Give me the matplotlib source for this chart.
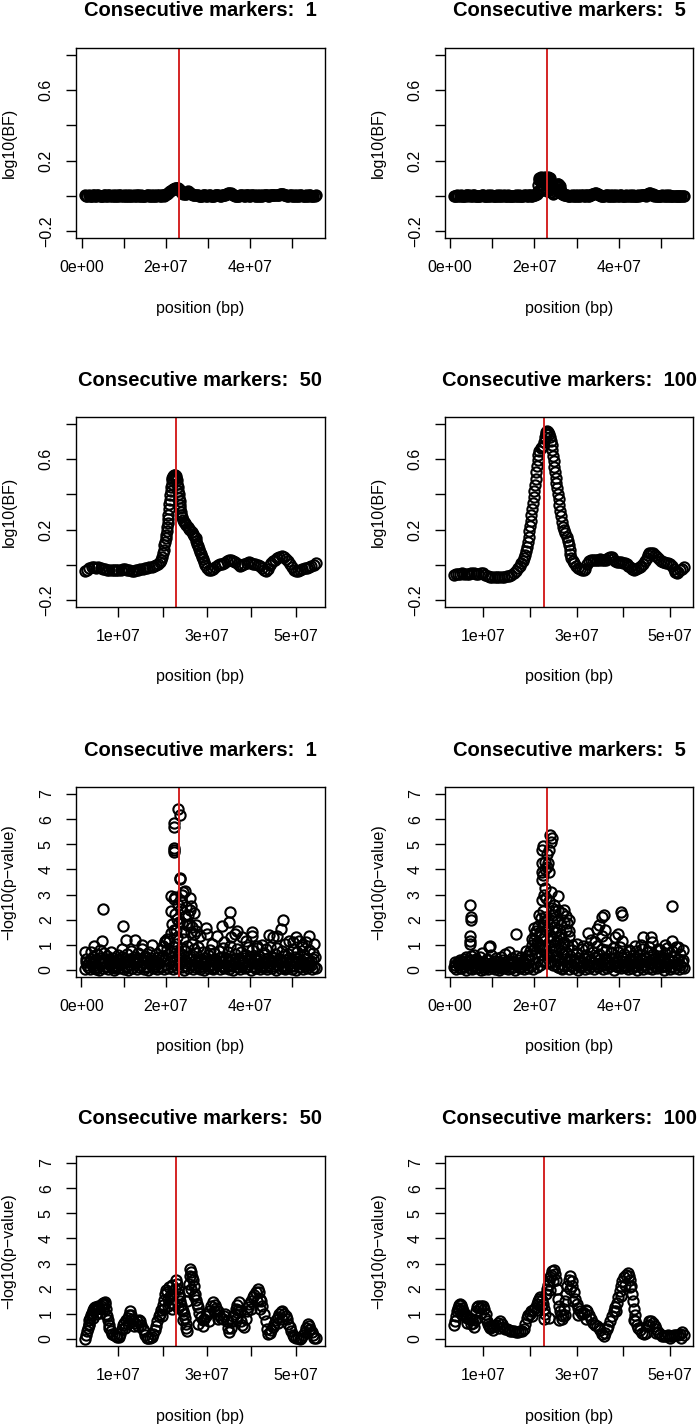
import matplotlib.pyplot as plt

plt.rcParams['font.family'] = ['Liberation Sans', 'DejaVu Sans']

# positions are in Mb
causal_mb = 23.1

bf1_x = [0.8, 1.3, 1.9, 2.4, 2.9, 3.4, 3.9, 4.5, 5.0, 5.5,
         6.0, 6.5, 7.1, 7.6, 8.1, 8.6, 9.1, 9.7, 10.2, 10.7,
         11.2, 11.7, 12.3, 12.8, 13.3, 13.8, 14.3, 14.9, 15.4, 15.9,
         16.4, 16.9, 17.5, 18.0, 18.5, 19.0, 19.5, 20.1, 20.6, 21.1,
         21.6, 22.1, 22.7, 23.2, 23.7, 24.2, 24.7, 25.3, 25.8, 26.3,
         26.8, 27.3, 27.9, 28.4, 28.9, 29.4, 29.9, 30.5, 31.0, 31.5,
         32.0, 32.5, 33.1, 33.6, 34.1, 34.6, 35.1, 35.7, 36.2, 36.7,
         37.2, 37.7, 38.3, 38.8, 39.3, 39.8, 40.3, 40.9, 41.4, 41.9,
         42.4, 42.9, 43.5, 44.0, 44.5, 45.0, 45.5, 46.1, 46.6, 47.1,
         47.6, 48.1, 48.7, 49.2, 49.7, 50.2, 50.7, 51.3, 51.8, 52.3,
         52.8, 53.3, 53.9, 54.4, 54.9, 55.4, 55.7,
         1.05, 1.6, 2.15, 2.65, 3.15, 3.65, 4.2, 4.75, 5.25, 5.75,
         6.25, 6.8, 7.35, 7.85, 8.35, 8.85, 9.4, 9.95, 10.45, 10.95,
         11.45, 12.0, 12.55, 13.05, 13.55, 14.05, 14.6, 15.15, 15.65, 16.15,
         16.65, 17.2, 17.75, 18.25, 18.75, 19.25, 19.8, 20.35, 20.85, 21.35,
         21.85, 22.4, 22.95, 23.45, 23.95, 24.45, 25.0, 25.55, 26.05, 26.55,
         27.05, 27.6, 28.15, 28.65, 29.15, 29.65, 30.2, 30.75, 31.25, 31.75,
         32.25, 32.8, 33.35, 33.85, 34.35, 34.85, 35.4, 35.95, 36.45, 36.95,
         37.45, 38.0, 38.55, 39.05, 39.55, 40.05, 40.6, 41.15, 41.65, 42.15,
         42.65, 43.2, 43.75, 44.25, 44.75, 45.25, 45.8, 46.35, 46.85, 47.35,
         47.85, 48.4, 48.95, 49.45, 49.95, 50.45, 51.0, 51.55, 52.05, 52.55,
         53.05, 53.6, 54.15, 54.65, 55.15]
bf1_y = [0.002, -0.003, 0.001, -0.002, 0.003, -0.001, 0.002, -0.003, 0.001, 0.004,
         -0.002, 0.006, 0.001, -0.003, 0.002, -0.001, 0.003, -0.002, 0.001, 0.002,
         -0.003, 0.001, 0.002, -0.002, 0.003, -0.001, 0.001, -0.003, 0.002, 0.000,
         0.003, -0.002, 0.001, 0.002, -0.001, 0.004, 0.001, 0.008, 0.018, 0.030,
         0.038, 0.044, 0.046, 0.040, 0.022, 0.010, 0.012, 0.026, 0.018, 0.008,
         0.004, 0.006, 0.001, -0.002, 0.003, 0.002, -0.001, 0.003, 0.001, -0.002,
         0.002, 0.004, 0.001, 0.003, 0.006, 0.012, 0.016, 0.008, 0.003, 0.001,
         -0.002, 0.002, 0.004, 0.001, 0.003, -0.001, 0.002, 0.005, 0.001, -0.002,
         0.003, 0.001, 0.004, 0.002, -0.001, 0.003, 0.006, 0.004, 0.002, 0.009,
         0.012, 0.005, 0.002, -0.001, 0.003, 0.001, -0.002, 0.002, 0.001, 0.003,
         -0.001, 0.002, 0.000, 0.003, -0.002, 0.001, 0.002,
         -0.001, 0.003, -0.002, 0.002, 0.000, 0.003, -0.002, 0.001, 0.003, -0.001,
         0.002, -0.002, 0.004, 0.000, -0.003, 0.002, 0.000, 0.003, -0.002, 0.001,
         0.002, -0.001, 0.000, 0.003, -0.002, 0.002, 0.001, -0.001, 0.003, -0.002,
         0.001, 0.003, -0.001, 0.002, 0.000, 0.002, 0.004, 0.012, 0.024, 0.034,
         0.041, 0.046, 0.044, 0.032, 0.015, 0.010, 0.018, 0.024, 0.012, 0.006,
         0.002, 0.004, -0.001, 0.001, 0.003, -0.002, 0.002, 0.000, -0.001, 0.002,
         0.003, 0.000, 0.002, 0.004, 0.009, 0.015, 0.013, 0.005, 0.001, -0.001,
         0.001, 0.003, -0.001, 0.002, 0.004, 0.000, 0.003, -0.002, 0.002, 0.001,
         -0.002, 0.002, 0.003, 0.000, 0.002, 0.005, 0.003, 0.004, 0.007, 0.011,
         0.010, 0.003, 0.000, 0.002, -0.002, 0.002, 0.000, -0.001, 0.003, 0.000,
         0.001, -0.001, 0.002, 0.000, 0.001]

bf5_x = [1.0, 1.5, 2.0, 2.6, 3.1, 3.6, 4.1, 4.6, 5.2, 5.7,
         6.2, 6.7, 7.2, 7.8, 8.3, 8.8, 9.3, 9.8, 10.4, 10.9,
         11.4, 11.9, 12.4, 13.0, 13.5, 14.0, 14.5, 15.0, 15.6, 16.1,
         16.6, 17.1, 17.6, 18.2, 18.7, 19.2, 19.7, 20.2, 20.6, 20.8,
         20.9, 21.0, 21.2, 21.6, 22.0, 22.4, 22.8, 23.2, 23.6, 23.9,
         23.9, 24.0, 24.3, 24.8, 25.2, 25.5, 25.8, 26.1, 26.4, 26.8,
         27.3, 27.8, 28.3, 28.8, 29.3, 29.9, 30.4, 30.9, 31.4, 31.9,
         32.5, 33.0, 33.5, 34.0, 34.5, 35.0, 35.6, 36.1, 36.6, 37.1,
         37.6, 38.2, 38.7, 39.2, 39.7, 40.2, 40.8, 41.3, 41.8, 42.3,
         42.8, 43.4, 43.9, 44.4, 44.9, 45.4, 46.0, 46.5, 47.0, 47.5,
         48.0, 48.6, 49.1, 49.6, 50.1, 50.6, 51.2, 51.7, 52.2, 52.7,
         53.2, 53.8, 54.3, 54.8, 55.4,
         1.25, 1.75, 2.3, 2.85, 3.35, 3.85, 4.35, 4.9, 5.45, 5.95,
         6.45, 6.95, 7.5, 8.05, 8.55, 9.05, 9.55, 10.1, 10.65, 11.15,
         11.65, 12.15, 12.7, 13.25, 13.75, 14.25, 14.75, 15.3, 15.85, 16.35,
         16.85, 17.35, 17.9, 18.45, 18.95, 19.45, 19.95, 21.4, 21.8, 22.2,
         22.6, 23.0, 23.4, 24.55, 25.0, 25.35, 25.65, 25.95, 26.25, 26.6,
         27.05, 27.55, 28.05, 28.55, 29.05, 29.6, 30.15, 30.65, 31.15, 31.65,
         32.2, 32.75, 33.25, 33.75, 34.25, 34.75, 35.3, 35.85, 36.35, 36.85,
         37.35, 37.9, 38.45, 38.95, 39.45, 39.95, 40.5, 41.05, 41.55, 42.05,
         42.55, 43.1, 43.65, 44.15, 44.65, 45.15, 45.7, 46.25, 46.75, 47.25,
         47.75, 48.3, 48.85, 49.35, 49.85, 50.35, 50.9, 51.45, 51.95, 52.45,
         52.95, 53.5, 54.05, 54.55, 55.1,
         21.3, 21.7, 22.1, 22.5, 22.9, 23.3, 23.7, 21.5, 22.3, 23.1,
         25.5, 25.8, 26.0]
bf5_y = [-0.004, 0.001, -0.002, 0.003, 0.000, -0.003, 0.002, 0.005, -0.001, 0.002,
         -0.003, 0.001, -0.002, 0.003, -0.004, 0.000, -0.002, 0.002, -0.003, 0.001,
         -0.002, 0.003, -0.001, -0.004, 0.001, -0.002, 0.000, -0.003, 0.002, -0.001,
         0.001, -0.002, 0.002, 0.000, 0.003, -0.001, 0.002, 0.004, 0.010, 0.030,
         0.060, 0.090, 0.102, 0.104, 0.100, 0.103, 0.101, 0.104, 0.100, 0.080,
         0.045, 0.020, 0.012, 0.030, 0.058, 0.066, 0.064, 0.040, 0.018, 0.010,
         0.006, 0.003, -0.001, 0.002, -0.002, 0.001, 0.003, -0.001, 0.002, 0.000,
         0.003, -0.001, 0.004, 0.008, 0.016, 0.012, 0.004, 0.001, -0.002, 0.003,
         0.001, -0.002, 0.004, 0.000, -0.003, 0.002, 0.001, -0.001, 0.003, -0.002,
         0.000, 0.002, -0.003, 0.001, -0.002, 0.002, 0.004, 0.001, 0.008, 0.013,
         0.009, 0.002, -0.003, -0.001, 0.001, -0.002, 0.002, -0.003, 0.001, -0.001,
         -0.002, 0.001, -0.003, 0.000, -0.002,
         -0.001, 0.002, -0.003, 0.001, -0.002, 0.003, 0.000, -0.002, 0.002, -0.001,
         0.001, -0.003, 0.002, 0.000, -0.002, 0.003, -0.001, 0.001, -0.002, 0.002,
         0.000, -0.002, 0.002, -0.001, 0.003, 0.000, -0.002, 0.001, -0.001, 0.002,
         0.001, -0.002, 0.002, 0.000, 0.003, -0.001, 0.004, 0.098, 0.103, 0.101,
         0.104, 0.099, 0.102, 0.015, 0.045, 0.062, 0.066, 0.055, 0.028, 0.012,
         0.005, 0.002, 0.000, 0.001, -0.002, 0.002, 0.001, -0.001, 0.003, 0.001,
         0.002, 0.000, 0.006, 0.012, 0.018, 0.010, 0.003, 0.000, -0.001, 0.002,
         0.000, 0.003, -0.002, 0.001, 0.002, -0.001, 0.003, 0.000, -0.002, 0.001,
         0.002, -0.001, 0.001, 0.000, 0.003, 0.005, 0.002, 0.006, 0.011, 0.014,
         0.006, 0.000, -0.002, 0.001, -0.001, 0.002, -0.002, 0.000, 0.002, -0.001,
         0.000, -0.002, 0.001, -0.001, 0.000,
         0.030, 0.060, 0.040, 0.070, 0.030, 0.060, 0.040, 0.080, 0.050, 0.080,
         0.030, 0.040, 0.020]

bf50_x = [2.55, 3.0, 3.5, 4.0, 4.5, 5.0, 5.5, 6.0, 6.5, 7.0,
          7.5, 8.0, 8.5, 9.0, 9.5, 10.0, 10.5, 11.0, 11.5, 12.0,
          12.5, 13.0, 13.5, 14.0, 14.5, 15.0, 15.5, 16.0, 16.5, 17.0,
          17.5, 18.0, 18.5, 19.0, 19.3, 19.6, 19.8, 20.0, 20.2, 20.4,
          20.6, 20.7, 20.8, 20.9, 21.0, 21.1, 21.2, 21.3, 21.4, 21.5,
          21.6, 21.7, 21.8, 21.9, 22.0, 22.1, 22.2, 22.4, 22.6, 22.8,
          23.0, 23.1, 23.2, 23.3, 23.4, 23.5, 23.6, 23.7, 23.8, 23.9,
          24.0, 24.1, 24.2, 24.4, 24.6, 24.8, 25.0, 25.3, 25.6, 25.9,
          26.2, 26.5, 26.8, 27.1, 27.4, 27.6, 27.8, 28.0, 28.2, 28.4,
          28.6, 28.8, 29.0, 29.3, 29.6, 30.0, 30.4, 30.9, 31.4, 31.9,
          32.4, 32.9, 33.4, 33.9, 34.4, 34.9, 35.4, 35.9, 36.4, 36.9,
          37.4, 37.9, 38.4, 38.9, 39.4, 39.9, 40.4, 40.9, 41.4, 41.9,
          42.4, 42.9, 43.3, 43.7, 44.1, 44.5, 44.9, 45.3, 45.8, 46.3,
          46.8, 47.3, 47.8, 48.3, 48.8, 49.2, 49.6, 50.0, 50.5, 51.0,
          51.5, 52.0, 52.5, 53.0, 53.5, 54.0, 54.5]
bf50_y = [-0.036, -0.028, -0.020, -0.015, -0.014, -0.016, -0.015, -0.018, -0.022, -0.025,
          -0.027, -0.029, -0.030, -0.029, -0.027, -0.028, -0.030, -0.026, -0.024, -0.028,
          -0.031, -0.033, -0.035, -0.032, -0.028, -0.025, -0.023, -0.020, -0.018, -0.015,
          -0.012, -0.008, -0.003, 0.006, 0.015, 0.028, 0.045, 0.065, 0.085, 0.110,
          0.130, 0.150, 0.170, 0.190, 0.215, 0.240, 0.260, 0.285, 0.315, 0.345,
          0.370, 0.395, 0.420, 0.440, 0.460, 0.480, 0.495, 0.505, 0.510, 0.508,
          0.505, 0.495, 0.480, 0.460, 0.440, 0.420, 0.400, 0.380, 0.360, 0.340,
          0.320, 0.300, 0.285, 0.270, 0.255, 0.245, 0.238, 0.225, 0.215, 0.205,
          0.195, 0.185, 0.175, 0.165, 0.150, 0.135, 0.120, 0.105, 0.090, 0.075,
          0.060, 0.045, 0.032, 0.015, 0.000, -0.018, -0.028, -0.030, -0.024, -0.012,
          0.000, 0.005, 0.006, 0.010, 0.020, 0.028, 0.030, 0.024, 0.016, 0.002,
          -0.008, -0.002, 0.006, 0.012, 0.014, 0.010, 0.006, 0.004, -0.002, -0.008,
          -0.018, -0.030, -0.034, -0.022, -0.004, 0.010, 0.020, 0.028, 0.036, 0.044,
          0.048, 0.044, 0.034, 0.020, 0.004, -0.010, -0.028, -0.038, -0.034, -0.029,
          -0.024, -0.020, -0.016, -0.012, -0.006, -0.002, 0.010]

bf100_x = [3.8, 4.2, 4.6, 5.0, 5.5, 6.0, 6.5, 7.0, 7.5, 8.0,
           8.5, 9.0, 9.5, 10.0, 10.5, 11.0, 11.5, 12.0, 12.5, 13.0,
           13.5, 14.0, 14.5, 15.0, 15.5, 16.0, 16.5, 17.0, 17.4, 17.8,
           18.2, 18.5, 18.8, 19.0, 19.2, 19.4, 19.6, 19.75, 19.9, 20.05,
           20.2, 20.35, 20.5, 20.65, 20.8, 20.95, 21.1, 21.25, 21.4, 21.55,
           21.7, 21.85, 22.0, 22.3, 22.6, 22.9, 23.1, 23.25, 23.4, 23.55,
           23.7, 23.9, 24.1, 24.3, 24.5, 24.65, 24.8, 24.95, 25.1, 25.25,
           25.4, 25.55, 25.7, 25.85, 26.0, 26.15, 26.3, 26.45, 26.6, 26.8,
           27.0, 27.3, 27.6, 27.9, 28.1, 28.3, 28.5, 28.7, 28.9, 29.2,
           29.5, 29.9, 30.3, 30.7, 31.1, 31.5, 31.9, 32.3, 32.7, 33.1,
           33.5, 33.9, 34.3, 34.7, 35.1, 35.5, 35.9, 36.3, 36.7, 37.1,
           37.5, 37.9, 38.3, 38.7, 39.1, 39.5, 39.9, 40.3, 40.7, 41.1,
           41.5, 41.9, 42.3, 42.7, 43.1, 43.5, 43.9, 44.3, 44.7, 45.0,
           45.3, 45.6, 46.0, 46.4, 46.8, 47.2, 47.6, 48.0, 48.4, 48.8,
           49.2, 49.6, 50.0, 50.4, 50.8, 51.1, 51.4, 51.8, 52.2, 52.6,
           52.96]
bf100_y = [-0.058, -0.052, -0.050, -0.052, -0.049, -0.051, -0.053, -0.050, -0.048, -0.049,
           -0.051, -0.050, -0.047, -0.049, -0.058, -0.066, -0.070, -0.068, -0.071, -0.069,
           -0.070, -0.068, -0.069, -0.066, -0.064, -0.058, -0.046, -0.033, -0.020, -0.008,
           0.008, 0.022, 0.040, 0.058, 0.078, 0.100, 0.130, 0.160, 0.190, 0.220,
           0.250, 0.285, 0.315, 0.350, 0.385, 0.420, 0.455, 0.490, 0.525, 0.560,
           0.595, 0.625, 0.645, 0.662, 0.670, 0.678, 0.700, 0.725, 0.745, 0.755,
           0.760, 0.752, 0.742, 0.725, 0.705, 0.680, 0.650, 0.620, 0.590, 0.555,
           0.525, 0.495, 0.465, 0.435, 0.405, 0.375, 0.340, 0.305, 0.275, 0.245,
           0.215, 0.195, 0.180, 0.160, 0.135, 0.110, 0.085, 0.060, 0.040, 0.022,
           0.008, -0.005, -0.018, -0.025, -0.028, -0.030, -0.026, 0.005, 0.020, 0.026,
           0.028, 0.030, 0.026, 0.030, 0.033, 0.030, 0.027, 0.030, 0.038, 0.043,
           0.042, 0.032, 0.020, 0.016, 0.015, 0.013, 0.012, 0.008, 0.002, -0.006,
           -0.015, -0.024, -0.029, -0.024, -0.016, -0.012, -0.005, 0.006, 0.020, 0.040,
           0.058, 0.066, 0.068, 0.066, 0.058, 0.045, 0.032, 0.022, 0.016, 0.013,
           0.012, 0.010, 0.005, -0.008, -0.025, -0.040, -0.048, -0.042, -0.032, -0.022,
           -0.010]

pv1_x = [0.9, 1.4, 2.0, 2.5, 3.0, 3.6, 4.1, 4.6, 5.2, 5.7,
         6.2, 6.8, 7.3, 7.8, 8.4, 8.9, 9.4, 10.0, 10.5, 11.0,
         11.6, 12.1, 12.6, 13.2, 13.7, 14.2, 14.8, 15.3, 15.8, 16.4,
         16.9, 17.4, 18.0, 18.5, 19.0, 19.6, 20.1, 20.6, 21.2, 21.7,
         22.2, 22.8, 23.3, 23.8, 24.4, 24.9, 25.4, 26.0, 26.5, 27.0,
         27.6, 28.1, 28.6, 29.2, 29.7, 30.2, 30.8, 31.3, 31.8, 32.4,
         32.9, 33.4, 34.0, 34.5, 35.0, 35.6, 36.1, 36.6, 37.2, 37.7,
         38.2, 38.8, 39.3, 39.8, 40.4, 40.9, 41.4, 42.0, 42.5, 43.0,
         43.6, 44.1, 44.6, 45.2, 45.7, 46.2, 46.8, 47.3, 47.8, 48.4,
         48.9, 49.4, 50.0, 50.5, 51.0, 51.6, 52.1, 52.6, 53.2, 53.7,
         54.2, 54.7, 55.2, 55.7,
         1.1, 1.7, 2.2, 2.8, 3.3, 3.8, 4.4, 4.9, 5.4, 6.0,
         6.5, 7.0, 7.6, 8.1, 8.6, 9.2, 9.7, 10.2, 10.8, 11.3,
         11.8, 12.4, 12.9, 13.4, 14.0, 14.5, 15.0, 15.6, 16.1, 16.6,
         17.2, 17.7, 18.2, 18.8, 19.3, 19.8, 20.4, 20.9, 21.4, 22.0,
         22.5, 23.0, 23.6, 24.1, 24.6, 25.2, 25.7, 26.2, 26.8, 27.3,
         27.8, 28.4, 28.9, 29.4, 30.0, 30.5, 31.0, 31.6, 32.1, 32.6,
         33.2, 33.7, 34.2, 34.8, 35.3, 35.8, 36.4, 36.9, 37.4, 38.0,
         38.5, 39.0, 39.6, 40.1, 40.6, 41.2, 41.7, 42.2, 42.8, 43.3,
         43.8, 44.4, 44.9, 45.4, 46.0, 46.5, 47.0, 47.6, 48.1, 48.6,
         49.2, 49.7, 50.2, 50.8, 51.3, 51.8, 52.4, 52.9, 53.4, 54.0,
         54.5, 55.0, 55.5,
         1.2, 1.6, 2.3, 2.7, 3.2, 3.5, 4.3, 4.8, 5.4, 5.9,
         6.4, 6.9, 7.5, 8.0, 8.5, 9.1, 9.6, 10.3, 10.8, 11.4,
         11.9, 12.4, 13.0, 13.5, 14.1, 14.6, 15.1, 15.7, 16.2, 16.7,
         17.2, 17.8, 18.3, 18.9, 19.4, 19.9, 20.5, 21.0, 21.5, 22.1,
         22.6, 23.1, 23.6, 24.2, 24.7, 25.2, 25.8, 26.3, 26.9, 27.4,
         27.9, 28.5, 29.0, 29.5, 30.1, 30.6, 31.1, 31.7, 32.2, 32.7,
         33.3, 33.8, 34.3, 34.9, 35.4, 35.9, 36.5, 37.0, 37.5, 38.1,
         38.6, 39.1, 39.7, 40.2, 40.7, 41.3, 41.8, 42.3, 42.9, 43.4,
         43.9, 44.5, 45.0, 45.5, 46.1, 46.6, 47.1, 47.7, 48.2, 48.7,
         49.3, 49.8, 50.3, 50.9, 51.4, 51.9, 52.5, 53.0, 53.5, 54.1,
         54.6, 55.1,
         0.9, 3.1, 4.9, 5.2, 9.9, 10.7, 12.7, 14.5, 16.8, 19.8,
         20.4, 21.3, 21.6, 21.4, 21.4, 22.0, 22.3, 22.2, 22.8, 22.0,
         22.1, 22.1, 22.0, 22.1, 23.0, 23.5, 23.5, 23.4, 23.7, 23.8,
         24.1, 24.6, 24.5, 25.0, 25.5, 25.7, 26.1, 25.9, 26.7, 26.3,
         27.3, 27.3, 29.5, 29.9, 22.6, 24.2, 28.2, 32.3, 33.5, 35.0,
         35.2, 35.5, 36.4, 37.0, 38.2, 40.5, 40.6, 41.8, 44.6, 45.6,
         46.6, 47.5, 47.8, 49.4, 51.0, 51.7, 53.3, 54.0, 55.3, 31.0,
         34.0, 39.0, 43.0, 48.5, 50.3, 52.5, 22.5, 23.2, 24.0, 24.8,
         25.3, 26.0, 26.8, 23.9, 21.9, 22.9]
pv1_y = [0.05, 0.18, 0.02, 0.25, 0.08, 0.12, 0.00, 0.22, 0.06, 0.15,
         0.03, 0.20, 0.10, 0.01, 0.16, 0.07, 0.24, 0.04, 0.13, 0.00,
         0.19, 0.06, 0.27, 0.02, 0.11, 0.21, 0.05, 0.14, 0.00, 0.23,
         0.09, 0.17, 0.03, 0.26, 0.12, 0.04, 0.20, 0.08, 0.15, 0.02,
         0.18, 0.06, 0.24, 0.10, 0.01, 0.16, 0.07, 0.22, 0.03, 0.13,
         0.20, 0.05, 0.15, 0.00, 0.26, 0.09, 0.18, 0.04, 0.12, 0.23,
         0.02, 0.17, 0.08, 0.21, 0.05, 0.14, 0.00, 0.25, 0.10, 0.03,
         0.19, 0.07, 0.13, 0.24, 0.01, 0.16, 0.09, 0.22, 0.04, 0.11,
         0.27, 0.03, 0.18, 0.06, 0.14, 0.00, 0.21, 0.08, 0.16, 0.02,
         0.12, 0.23, 0.05, 0.17, 0.00, 0.10, 0.26, 0.04, 0.15, 0.08,
         0.20, 0.02, 0.13, 0.06,
         0.45, 0.32, 0.70, 0.52, 0.38, 0.62, 0.80, 0.41, 0.66, 0.55,
         0.34, 0.72, 0.48, 0.30, 0.58, 0.40, 0.85, 0.36, 0.63, 0.44,
         0.75, 0.50, 0.33, 0.68, 0.42, 0.82, 0.55, 0.37, 0.71, 0.46,
         0.31, 0.64, 0.52, 0.78, 0.95, 1.10, 0.85, 1.15, 0.70, 0.92,
         1.05, 0.60, 0.88, 1.25, 0.74, 0.96, 0.55, 1.02, 0.83, 0.66,
         0.90, 0.45, 0.72, 0.36, 0.58, 0.80, 0.40, 0.67, 0.33, 0.76,
         0.50, 0.88, 0.43, 0.70, 0.95, 0.38, 0.62, 0.84, 0.47, 0.73,
         0.35, 0.60, 0.90, 0.52, 0.78, 0.41, 0.86, 0.57, 0.32, 0.69,
         0.83, 0.48, 0.92, 0.36, 0.65, 0.88, 0.44, 0.74, 0.55, 0.31,
         0.62, 0.40, 0.85, 0.53, 0.70, 0.37, 0.90, 0.58, 0.45, 0.80,
         0.35, 0.66, 0.50,
         0.30, 0.10, 0.42, 0.15, 0.35, 0.05, 0.48, 0.28, 0.38, 0.12,
         0.44, 0.25, 0.33, 0.08, 0.40, 0.20, 0.50, 0.30, 0.14, 0.36,
         0.09, 0.45, 0.26, 0.39, 0.18, 0.32, 0.47, 0.11, 0.29, 0.41,
         0.22, 0.37, 0.13, 0.46, 0.55, 0.40, 0.62, 0.35, 0.50, 0.75,
         0.45, 0.66, 0.30, 0.58, 0.40, 0.28, 0.44, 0.19, 0.38, 0.31,
         0.12, 0.43, 0.27, 0.48, 0.16, 0.35, 0.08, 0.41, 0.24, 0.46,
         0.30, 0.14, 0.49, 0.37, 0.21, 0.44, 0.32, 0.10, 0.40, 0.26,
         0.47, 0.15, 0.34, 0.42, 0.29, 0.06, 0.38, 0.45, 0.18, 0.33,
         0.11, 0.40, 0.27, 0.48, 0.36, 0.20, 0.43, 0.31, 0.09, 0.39,
         0.46, 0.17, 0.34, 0.28, 0.44, 0.12, 0.37, 0.25, 0.49, 0.33,
         0.19, 0.42,
         0.70, 0.95, 1.17, 2.42, 1.75, 1.20, 1.20, 0.98, 1.00, 1.17,
         1.24, 1.46, 1.84, 2.35, 2.93, 2.82, 2.90, 2.24, 2.04, 5.86,
         5.70, 4.86, 4.70, 4.77, 6.40, 6.17, 3.67, 3.62, 2.41, 3.00,
         3.10, 3.16, 2.16, 1.77, 1.81, 2.86, 2.54, 2.37, 2.27, 1.70,
         1.77, 1.57, 1.66, 1.44, 1.30, 1.50, 1.35, 1.35, 1.73, 1.90,
         2.30, 1.30, 1.44, 1.57, 1.30, 1.37, 1.53, 0.97, 1.40, 1.30,
         1.37, 1.64, 1.97, 1.17, 1.30, 1.17, 1.10, 1.37, 1.04, 1.05,
         1.10, 1.15, 1.00, 1.05, 1.10, 0.98, 1.60, 1.90, 2.70, 2.50,
         2.20, 1.50, 1.45, 1.85, 1.60, 2.60]

pv5_x = [1.0, 1.5, 2.1, 2.6, 3.1, 3.7, 4.2, 4.7, 5.3, 5.8,
         6.3, 6.9, 7.4, 7.9, 8.5, 9.0, 9.5, 10.1, 10.6, 11.1,
         11.7, 12.2, 12.7, 13.3, 13.8, 14.3, 14.9, 15.4, 15.9, 16.5,
         17.0, 17.5, 18.1, 18.6, 19.1, 19.7, 20.2, 20.7, 21.3, 21.8,
         22.3, 22.9, 23.4, 23.9, 24.5, 25.0, 25.5, 26.1, 26.6, 27.1,
         27.7, 28.2, 28.7, 29.3, 29.8, 30.3, 30.9, 31.4, 31.9, 32.5,
         33.0, 33.5, 34.1, 34.6, 35.1, 35.7, 36.2, 36.7, 37.3, 37.8,
         38.3, 38.9, 39.4, 39.9, 40.5, 41.0, 41.5, 42.1, 42.6, 43.1,
         43.7, 44.2, 44.7, 45.3, 45.8, 46.3, 46.9, 47.4, 47.9, 48.5,
         49.0, 49.5, 50.1, 50.6, 51.1, 51.7, 52.2, 52.7, 53.3, 53.8,
         54.3, 54.9, 55.4,
         1.2, 1.8, 2.3, 2.9, 3.4, 3.9, 4.5, 5.0, 5.6, 6.1,
         6.6, 7.2, 7.7, 8.2, 8.8, 9.3, 9.8, 10.4, 10.9, 11.4,
         12.0, 12.5, 13.0, 13.6, 14.1, 14.6, 15.2, 15.7, 16.2, 16.8,
         17.3, 17.8, 18.4, 18.9, 19.4, 20.0, 20.5, 21.0, 21.6, 22.1,
         22.6, 23.2, 23.7, 24.2, 24.8, 25.3, 25.8, 26.4, 26.9, 27.4,
         28.0, 28.5, 29.0, 29.6, 30.1, 30.6, 31.2, 31.7, 32.2, 32.8,
         33.3, 33.8, 34.4, 34.9, 35.4, 36.0, 36.5, 37.0, 37.6, 38.1,
         38.6, 39.2, 39.7, 40.2, 40.8, 41.3, 41.8, 42.4, 42.9, 43.4,
         44.0, 44.5, 45.0, 45.6, 46.1, 46.6, 47.2, 47.7, 48.2, 48.8,
         49.3, 49.8, 50.4, 50.9, 51.4, 52.0, 52.5, 53.0, 53.6, 54.1,
         54.6, 55.1,
         1.3, 1.9, 2.4, 2.8, 3.3, 3.9, 4.4, 4.9, 5.5, 6.0,
         6.5, 7.1, 7.6, 8.1, 8.7, 9.2, 9.7, 10.3, 10.8, 11.3,
         11.9, 12.4, 12.9, 13.5, 14.0, 14.5, 15.1, 15.6, 16.1, 16.7,
         17.2, 17.7, 18.3, 18.8, 19.3, 19.9, 20.4, 20.9, 21.5, 22.0,
         22.5, 23.1, 23.6, 24.1, 24.7, 25.2, 25.7, 26.3, 26.8, 27.3,
         27.9, 28.4, 28.9, 29.5, 30.0, 30.5, 31.1, 31.6, 32.1, 32.7,
         33.2, 33.7, 34.3, 34.8, 35.3, 35.9, 36.4, 36.9, 37.5, 38.0,
         38.5, 39.1, 39.6, 40.1, 40.7, 41.2, 41.7, 42.3, 42.8, 43.3,
         43.9, 44.4, 44.9, 45.5, 46.0, 46.5, 47.1, 47.6, 48.1, 48.7,
         49.2, 49.7, 50.3, 50.8, 51.3, 51.9, 52.4, 52.9, 53.5, 54.0,
         54.5, 55.0,
         4.74, 4.9, 5.0, 4.74, 4.66, 4.8, 15.6, 9.6, 18.0, 23.6,
         24.1, 23.9, 22.1, 21.7, 23.5, 22.5, 21.9, 23.3, 22.9, 21.7,
         22.1, 23.5, 21.7, 22.5, 23.9, 25.7, 21.9, 22.7, 23.5, 21.2,
         21.6, 22.1, 24.1, 24.9, 25.7, 26.5, 27.1, 27.4, 28.1, 27.7,
         25.7, 24.5, 20.9, 19.8, 20.2, 19.5, 23.9, 24.3, 26.9, 28.2,
         28.1, 21.6, 21.7, 25.7, 26.6, 24.4, 24.9, 22.3, 22.8, 23.0,
         21.3, 20.6, 24.6, 25.2, 26.2, 26.0, 27.5, 22.2, 23.0, 22.4,
         24.7, 26.9, 29.0, 36.5, 36.0, 35.2, 34.9, 32.8, 40.6, 40.7,
         39.8, 39.1, 40.7, 45.8, 47.6, 47.8, 52.6, 52.6, 51.0, 45.3,
         54.1, 55.3, 42.7, 37.0, 38.2, 34.3, 36.8, 31.5, 33.5, 43.8,
         49.2, 30.2, 36.0]
pv5_y = [0.12, 0.02, 0.20, 0.07, 0.15, 0.00, 0.24, 0.09, 0.04, 0.18,
         0.06, 0.22, 0.01, 0.13, 0.19, 0.03, 0.10, 0.25, 0.05, 0.16,
         0.00, 0.21, 0.08, 0.14, 0.03, 0.23, 0.11, 0.01, 0.18, 0.06,
         0.15, 0.02, 0.24, 0.09, 0.17, 0.05, 0.26, 0.12, 0.20, 0.35,
         0.40, 0.28, 0.55, 0.30, 0.18, 0.25, 0.10, 0.22, 0.06, 0.14,
         0.21, 0.03, 0.16, 0.09, 0.24, 0.00, 0.13, 0.19, 0.05, 0.22,
         0.08, 0.15, 0.02, 0.25, 0.11, 0.18, 0.04, 0.20, 0.07, 0.14,
         0.23, 0.01, 0.17, 0.10, 0.06, 0.21, 0.13, 0.03, 0.19, 0.08,
         0.16, 0.00, 0.24, 0.12, 0.05, 0.18, 0.09, 0.22, 0.02, 0.14,
         0.07, 0.20, 0.11, 0.01, 0.17, 0.25, 0.04, 0.15, 0.09, 0.21,
         0.03, 0.13, 0.08,
         0.33, 0.28, 0.40, 0.30, 0.45, 0.52, 0.38, 0.55, 0.60, 0.42,
         0.35, 0.50, 0.68, 0.29, 0.44, 0.90, 0.58, 0.36, 0.48, 0.31,
         0.53, 0.40, 0.62, 0.34, 0.70, 0.46, 0.30, 0.57, 0.39, 0.50,
         0.32, 0.45, 0.60, 0.75, 1.00, 1.20, 1.55, 0.95, 1.35, 1.80,
         2.10, 1.65, 1.40, 1.95, 1.50, 1.20, 0.85, 1.45, 1.10, 0.70,
         0.95, 0.55, 0.80, 0.40, 0.68, 0.35, 0.82, 0.48, 0.60, 0.90,
         0.38, 0.72, 0.50, 0.95, 0.62, 0.85, 0.44, 0.78, 0.33, 0.66,
         0.88, 0.46, 0.70, 0.92, 0.37, 0.64, 0.52, 0.80, 0.41, 0.58,
         0.75, 0.34, 0.60, 0.85, 0.47, 0.70, 0.90, 0.39, 0.63, 0.31,
         0.55, 0.78, 0.42, 0.68, 0.88, 0.36, 0.74, 0.50, 0.92, 0.45,
         0.65, 0.40,
         0.18, 0.30, 0.08, 0.25, 0.12, 0.35, 0.20, 0.40, 0.15, 0.28,
         0.10, 0.32, 0.22, 0.05, 0.38, 0.17, 0.26, 0.11, 0.34, 0.21,
         0.07, 0.29, 0.16, 0.36, 0.24, 0.09, 0.33, 0.19, 0.27, 0.13,
         0.37, 0.23, 0.10, 0.42, 0.60, 0.85, 0.70, 1.05, 0.65, 1.25,
         0.95, 0.60, 1.15, 0.75, 1.00, 0.55, 0.40, 0.90, 0.65, 0.45,
         0.30, 0.42, 0.18, 0.36, 0.25, 0.48, 0.12, 0.33, 0.44, 0.20,
         0.38, 0.27, 0.46, 0.15, 0.40, 0.31, 0.22, 0.49, 0.35, 0.14,
         0.43, 0.26, 0.37, 0.18, 0.47, 0.30, 0.10, 0.41, 0.24, 0.36,
         0.45, 0.17, 0.32, 0.39, 0.21, 0.48, 0.28, 0.13, 0.42, 0.34,
         0.23, 0.46, 0.16, 0.38, 0.29, 0.44, 0.11, 0.35, 0.25, 0.40,
         0.19, 0.31,
         2.57, 2.10, 1.97, 1.37, 1.17, 1.04, 1.44, 0.95, 0.77, 5.37,
         5.24, 5.10, 4.93, 4.77, 4.77, 4.30, 4.24, 4.24, 4.10, 3.90,
         3.77, 3.90, 3.57, 3.28, 3.11, 2.95, 2.80, 2.85, 2.75, 2.20,
         2.07, 2.33, 2.47, 2.33, 2.40, 2.27, 2.40, 2.13, 2.00, 1.87,
         2.00, 2.20, 1.76, 1.67, 1.44, 1.24, 1.31, 1.24, 1.04, 1.57,
         1.37, 0.90, 0.84, 0.13, 0.04, 0.60, 0.77, 1.90, 1.60, 2.00,
         1.50, 1.10, 1.70, 1.50, 1.80, 1.30, 1.60, 3.00, 4.60, 4.00,
         2.60, 1.90, 1.00, 2.20, 2.10, 1.77, 1.64, 1.47, 2.30, 2.17,
         1.44, 1.31, 1.17, 1.33, 1.30, 1.10, 2.55, 1.17, 1.00, 1.00,
         0.90, 0.80, 0.77, 1.10, 0.70, 1.10, 1.60, 0.95, 1.20, 0.95,
         0.85, 1.05, 1.35]

pv50_x = [2.55, 2.7, 2.9, 3.1, 3.3, 3.5, 3.7, 3.9, 4.1, 4.3,
          4.5, 4.7, 4.9, 5.1, 5.4, 5.7, 6.0, 6.3, 6.6, 6.9,
          7.1, 7.2, 7.3, 7.4, 7.6, 7.8, 8.0, 8.3, 8.6, 9.0,
          9.4, 9.8, 10.2, 10.5, 10.8, 11.1, 11.4, 11.8, 12.1, 12.4,
          12.6, 12.8, 13.1, 13.4, 13.8, 14.2, 14.6, 14.9, 15.2, 15.5,
          15.8, 16.1, 16.4, 16.8, 17.2, 17.6, 17.9, 18.2, 18.5, 18.8,
          19.1, 19.4, 19.7, 20.0, 20.3, 20.5, 20.7, 21.0, 21.2, 21.5,
          21.7, 21.9, 22.2, 22.4, 22.6, 22.8, 23.0, 23.2, 23.4, 23.6,
          23.8, 24.0, 24.2, 24.4, 24.6, 24.8, 25.0, 25.2, 25.3, 25.5,
          25.6, 25.8, 25.9, 26.1, 26.2, 26.4, 26.6, 26.9, 27.1, 27.3,
          27.5, 27.7, 27.9, 28.2, 28.6, 29.0, 29.4, 29.8, 30.1, 30.4,
          30.8, 31.3, 31.7, 32.0, 32.4, 32.8, 33.2, 33.5, 33.8, 34.1,
          34.4, 34.7, 35.0, 35.3, 35.6, 35.9, 36.2, 36.5, 36.8, 37.2,
          37.4, 37.7, 38.0, 38.4, 38.7, 39.0, 39.2, 39.5, 39.9, 40.3,
          40.7, 41.0, 41.4, 41.7, 41.9, 42.2, 42.5, 42.9, 43.2, 43.5,
          43.7, 44.1, 44.4, 44.8, 45.2, 45.6, 45.9, 46.3, 46.6, 46.9,
          47.3, 47.7, 48.0, 48.3, 48.6, 49.0, 49.3, 49.7, 50.1, 50.5,
          50.9, 51.3, 51.6, 52.0, 52.3, 52.7, 53.0, 53.3, 53.6, 53.9,
          54.2, 54.52,
          3.5, 4.2, 5.0, 5.8, 6.6, 11.6, 12.3, 13.6, 14.4, 19.8,
          20.4, 21.2, 22.0, 23.5, 24.5, 26.5, 27.0, 28.0, 29.2, 30.5,
          31.5, 32.5, 36.7, 37.0, 40.0, 41.2, 42.0, 46.0, 47.0, 52.9]
pv50_y = [0.00, 0.15, 0.30, 0.45, 0.60, 0.75, 0.85, 0.95, 1.05, 1.15,
          1.22, 1.27, 1.20, 1.28, 1.30, 1.25, 1.32, 1.38, 1.42, 1.47,
          1.40, 1.20, 1.00, 0.90, 0.75, 0.55, 0.45, 0.30, 0.20, 0.15,
          0.12, 0.08, 0.07, 0.20, 0.40, 0.55, 0.65, 0.75, 0.82, 0.95,
          1.10, 0.95, 0.80, 0.70, 0.65, 0.72, 0.75, 0.70, 0.55, 0.40,
          0.30, 0.15, 0.05, 0.02, 0.04, 0.08, 0.20, 0.35, 0.50, 0.70,
          0.90, 1.00, 1.15, 1.35, 1.55, 1.80, 1.95, 1.85, 1.60, 2.05,
          1.70, 1.45, 2.13, 1.80, 1.40, 2.00, 2.36, 2.20, 2.00, 1.80,
          1.65, 1.50, 1.35, 1.20, 1.10, 1.00, 0.85, 0.60, 0.45, 0.33,
          1.50, 1.90, 2.20, 2.50, 2.80, 2.67, 2.45, 2.33, 2.10, 1.80,
          1.55, 1.40, 1.27, 1.05, 0.87, 0.75, 0.80, 0.90, 1.00, 1.10,
          1.30, 1.47, 1.35, 1.25, 1.13, 0.95, 0.85, 0.80, 0.90, 1.00,
          0.70, 0.45, 0.27, 0.45, 0.70, 0.90, 1.00, 1.20, 1.35, 1.47,
          1.10, 0.73, 0.55, 0.47, 0.80, 1.10, 1.27, 1.40, 1.53, 1.65,
          1.73, 1.85, 2.00, 1.85, 1.60, 1.53, 1.30, 1.00, 0.70, 0.40,
          0.20, 0.25, 0.35, 0.47, 0.60, 0.75, 0.87, 1.00, 1.07, 1.13,
          1.00, 0.93, 0.80, 0.60, 0.47, 0.30, 0.15, 0.07, 0.03, 0.02,
          0.00, 0.05, 0.15, 0.27, 0.45, 0.60, 0.50, 0.40, 0.28, 0.15,
          0.05, 0.03,
          0.55, 0.85, 1.00, 1.05, 1.20, 0.45, 0.60, 0.50, 0.50, 0.90,
          1.20, 1.30, 1.20, 1.25, 0.75, 2.00, 1.70, 0.60, 0.50, 0.70,
          1.10, 0.80, 0.85, 1.15, 1.20, 1.50, 1.20, 0.65, 0.80, 0.35]

pv100_x = [3.76, 3.9, 4.1, 4.3, 4.5, 4.7, 5.0, 5.3, 5.5, 5.7,
           6.0, 6.3, 6.6, 6.9, 7.2, 7.5, 7.8, 8.0, 8.2, 8.4,
           8.6, 8.9, 9.2, 9.6, 9.9, 10.2, 10.5, 10.7, 10.9, 11.2,
           11.5, 11.9, 12.3, 12.7, 13.1, 13.5, 13.9, 14.2, 14.6, 15.0,
           15.4, 15.8, 16.2, 16.6, 17.0, 17.5, 17.9, 18.3, 18.7, 19.0,
           19.3, 19.6, 19.9, 20.2, 20.6, 21.0, 21.4, 21.7, 22.0, 22.2,
           22.5, 22.8, 23.0, 23.2, 23.4, 23.6, 23.8, 24.0, 24.2, 24.5,
           24.8, 25.1, 25.4, 25.6, 25.8, 26.0, 26.2, 26.4, 26.6, 26.8,
           27.0, 27.2, 27.5, 27.8, 28.0, 28.3, 28.6, 28.9, 29.1, 29.4,
           29.7, 30.0, 30.3, 30.7, 31.1, 31.5, 31.9, 32.3, 32.7, 33.1,
           33.5, 33.9, 34.3, 34.7, 35.1, 35.5, 35.8, 36.1, 36.4, 36.8,
           37.2, 37.6, 38.0, 38.3, 38.6, 38.9, 39.2, 39.5, 39.8, 40.1,
           40.5, 40.9, 41.2, 41.5, 41.7, 41.9, 42.0, 42.2, 42.4, 42.6,
           42.9, 43.2, 43.6, 44.0, 44.4, 44.8, 45.1, 45.5, 45.9, 46.3,
           46.7, 47.1, 47.5, 47.9, 48.3, 48.7, 49.1, 49.6, 50.0, 50.4,
           50.9, 51.3, 51.8, 52.2, 52.6, 52.96,
           4.8, 5.5, 6.5, 7.3, 9.5, 10.3, 12.0, 13.3, 20.5, 21.5,
           22.3, 23.1, 24.0, 24.3, 25.0, 26.3, 27.4, 28.5, 29.2, 30.2,
           32.0, 38.5, 39.6, 40.3, 41.4, 42.3, 45.6, 47.0, 50.0, 52.4]
pv100_y = [0.55, 0.70, 0.90, 1.13, 1.25, 1.35, 1.40, 1.35, 1.25, 1.13,
           1.00, 0.90, 0.85, 0.82, 0.80, 0.78, 0.65, 0.47, 0.75, 1.10,
           1.27, 1.33, 1.25, 1.33, 1.30, 1.20, 1.00, 0.73, 0.60, 0.50,
           0.45, 0.48, 0.50, 0.55, 0.62, 0.70, 0.60, 0.48, 0.40, 0.38,
           0.35, 0.33, 0.30, 0.32, 0.28, 0.27, 0.30, 0.33, 0.40, 0.60,
           0.85, 0.95, 1.00, 1.10, 1.15, 1.25, 1.40, 1.50, 1.60, 1.67,
           1.55, 1.40, 1.20, 1.00, 1.80, 2.00, 2.15, 2.30, 2.45, 2.55,
           2.70, 2.73, 2.60, 2.35, 2.00, 1.60, 1.30, 1.10, 0.95, 0.80,
           0.90, 1.20, 1.50, 1.80, 2.10, 2.35, 2.50, 2.30, 2.10, 1.85,
           1.60, 1.40, 1.25, 1.10, 1.00, 1.05, 1.15, 1.10, 0.95, 0.80,
           0.65, 0.55, 0.50, 0.45, 0.35, 0.20, 0.13, 0.25, 0.38, 0.50,
           0.70, 0.90, 1.10, 1.27, 1.45, 1.67, 1.90, 2.10, 2.30, 2.45,
           2.55, 2.63, 2.50, 2.35, 2.10, 1.80, 1.50, 1.20, 0.95, 0.70,
           0.55, 0.45, 0.35, 0.25, 0.18, 0.25, 0.50, 0.73, 0.70, 0.62,
           0.50, 0.38, 0.27, 0.18, 0.12, 0.10, 0.12, 0.14, 0.12, 0.13,
           0.15, 0.14, 0.16, 0.20, 0.27, 0.15,
           1.15, 0.95, 0.65, 0.60, 1.05, 0.85, 0.35, 0.45, 0.90, 1.15,
           1.30, 0.80, 0.85, 1.95, 2.30, 0.75, 0.95, 2.00, 1.50, 0.95,
           0.80, 1.10, 1.70, 2.15, 2.05, 0.75, 0.55, 0.25, 0.05, 0.05]

titles = ['Consecutive markers:  1', 'Consecutive markers:  5',
          'Consecutive markers:  50', 'Consecutive markers:  100']
bf_ticks = [-0.2, 0.0, 0.2, 0.4, 0.6, 0.8]
bf_ticklabels = ['\u22120.2', '', '0.2', '', '0.6', '']
pv_ticks = [0, 1, 2, 3, 4, 5, 6, 7]
pv_ticklabels = ['0', '1', '2', '3', '4', '5', '6', '7']
xticks_a = [0, 10, 20, 30, 40, 50]
xticklabels_a = ['0e+00', '', '2e+07', '', '4e+07', '']
xticks_b = [10, 20, 30, 40, 50]
xticklabels_b = ['1e+07', '', '3e+07', '', '5e+07']

fig = plt.figure(figsize=(7, 14.25), dpi=100)

lefts = [76 / 700, 445 / 700]
widths = [249 / 700, 248 / 700]
bottoms = [1 - 238 / 1425, 1 - 607 / 1425, 1 - 977 / 1425, 1 - 1346 / 1425]
h = 190 / 1425


def panel(row, col, xs, ys, title, ylab, yt, ytl, xt, xtl):
    ax = fig.add_axes([lefts[col], bottoms[row], widths[col], h])
    x = [v * 1e6 for v in xs]
    ax.plot(x, ys, 'o', ms=7.4, mfc='none', mec='black', mew=1.5)
    lo, hi = min(x), max(x)
    pad = 0.04 * (hi - lo)
    ax.set_xlim(lo - pad, hi + pad)
    ypad = 0.04 * (yt[-1] - yt[0])
    ax.set_ylim(yt[0] - ypad, yt[-1] + ypad)
    ax.axvline(causal_mb * 1e6, color='#d42424', lw=1.4)
    ax.set_xticks([v * 1e6 for v in xt])
    ax.set_xticklabels(xtl, fontsize=11.5)
    ax.set_yticks(yt)
    ax.set_yticklabels(ytl, fontsize=11.5, rotation=90, va='center')
    ax.tick_params(axis='both', length=7, width=1, direction='out', pad=9)
    for s in ax.spines.values():
        s.set_linewidth(1.0)
    ax.text(0.5, 1 + 37 / 190, title, transform=ax.transAxes, ha='center',
            va='center', fontsize=14.5, fontweight='bold')
    ax.text(0.5, -70 / 190, 'position (bp)', transform=ax.transAxes,
            ha='center', va='center', fontsize=11.5)
    ax.text(-67 / 249, 0.5, ylab, transform=ax.transAxes, rotation=90,
            ha='center', va='center', fontsize=11.5)
    return ax


panel(0, 0, bf1_x, bf1_y, titles[0], 'log10(BF)', bf_ticks, bf_ticklabels, xticks_a, xticklabels_a)
panel(0, 1, bf5_x, bf5_y, titles[1], 'log10(BF)', bf_ticks, bf_ticklabels, xticks_a, xticklabels_a)
panel(1, 0, bf50_x, bf50_y, titles[2], 'log10(BF)', bf_ticks, bf_ticklabels, xticks_b, xticklabels_b)
panel(1, 1, bf100_x, bf100_y, titles[3], 'log10(BF)', bf_ticks, bf_ticklabels, xticks_b, xticklabels_b)
panel(2, 0, pv1_x, pv1_y, titles[0], '\u2212log10(p\u2212value)', pv_ticks, pv_ticklabels, xticks_a, xticklabels_a)
panel(2, 1, pv5_x, pv5_y, titles[1], '\u2212log10(p\u2212value)', pv_ticks, pv_ticklabels, xticks_a, xticklabels_a)
panel(3, 0, pv50_x, pv50_y, titles[2], '\u2212log10(p\u2212value)', pv_ticks, pv_ticklabels, xticks_b, xticklabels_b)
panel(3, 1, pv100_x, pv100_y, titles[3], '\u2212log10(p\u2212value)', pv_ticks, pv_ticklabels, xticks_b, xticklabels_b)

fig.savefig('out.png', dpi=100)
